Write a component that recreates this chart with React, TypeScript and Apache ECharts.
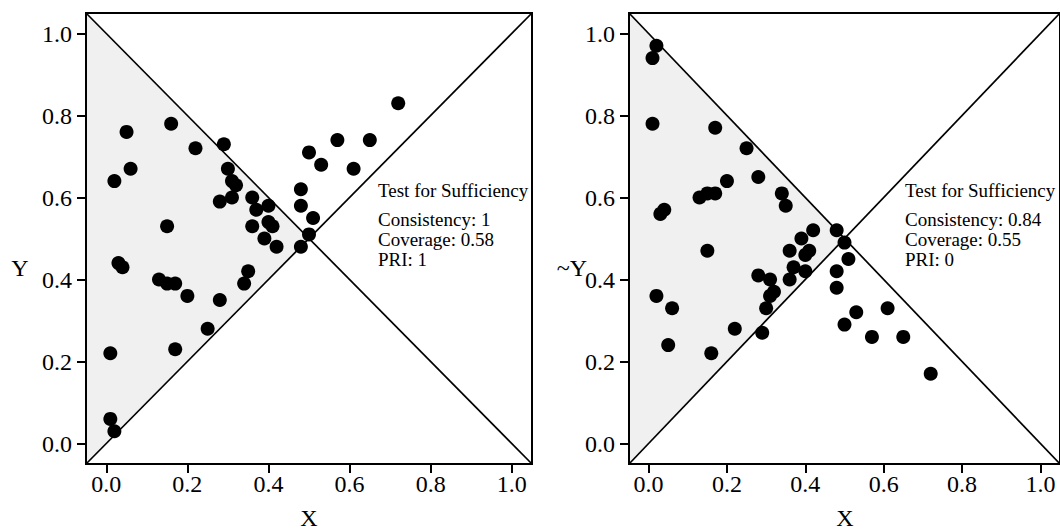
import React, { useEffect, useRef } from "react";
import * as echarts from "echarts";

// Membership scores of the condition X (shared by both panels)
const X_VALUES = [0.05, 0.16, 0.06, 0.02, 0.22, 0.29, 0.30, 0.31, 0.32, 0.28, 0.31, 0.36, 0.37, 0.40, 0.36, 0.40, 0.41, 0.39, 0.42, 0.48, 0.50, 0.48, 0.48, 0.51, 0.50, 0.53, 0.57, 0.15, 0.03, 0.04, 0.13, 0.15, 0.17, 0.20, 0.28, 0.35, 0.34, 0.25, 0.17, 0.01, 0.01, 0.02, 0.72, 0.65, 0.61];
// Outcome Y (left panel)
const Y_VALUES = [0.76, 0.78, 0.67, 0.64, 0.72, 0.73, 0.67, 0.64, 0.63, 0.59, 0.60, 0.60, 0.57, 0.58, 0.53, 0.54, 0.53, 0.50, 0.48, 0.48, 0.51, 0.62, 0.58, 0.55, 0.71, 0.68, 0.74, 0.53, 0.44, 0.43, 0.40, 0.39, 0.39, 0.36, 0.35, 0.42, 0.39, 0.28, 0.23, 0.22, 0.06, 0.03, 0.83, 0.74, 0.67];
// Negated outcome ~Y (right panel)
const NOT_Y_VALUES = [0.24, 0.22, 0.33, 0.36, 0.28, 0.27, 0.33, 0.36, 0.37, 0.41, 0.40, 0.40, 0.43, 0.42, 0.47, 0.46, 0.47, 0.50, 0.52, 0.52, 0.49, 0.38, 0.42, 0.45, 0.29, 0.32, 0.26, 0.47, 0.56, 0.57, 0.60, 0.61, 0.61, 0.64, 0.65, 0.58, 0.61, 0.72, 0.77, 0.78, 0.94, 0.97, 0.17, 0.26, 0.33];

const TICKS = [0, 0.2, 0.4, 0.6, 0.8, 1.0];
const TICK_LABELS = ["0.0", "0.2", "0.4", "0.6", "0.8", "1.0"];
const AXIS_MIN = -0.05;
const AXIS_MAX = 1.05;

const DIAG_UP = [[-0.05, -0.05], [1.05, 1.05]];
const DIAG_DOWN = [[-0.05, 1.05], [1.05, -0.05]];
const REGION = [[-0.05, -0.05], [-0.05, 1.05], [0.5, 0.5]];

const STAT_TITLE = "Test for Sufficiency";
const LEFT_STATS = ["Consistency: 1", "Coverage: 0.58", "PRI: 1"];
const RIGHT_STATS = ["Consistency: 0.84", "Coverage: 0.55", "PRI: 0"];
const Y_TITLES = ["Y", "~Y"];
const X_TITLE = "X";

const FONT = '"Liberation Serif", "Times New Roman", serif';

export default function App() {
  const ref = useRef<HTMLDivElement>(null);

  useEffect(() => {
    if (!ref.current) return;
    const chart = echarts.init(ref.current, undefined, { renderer: "svg" });

    const grids = [
      { left: 86, top: 13, width: 446, height: 451 },
      { left: 629, top: 13, width: 433, height: 451 },
    ];

    const fmt = (v: number) => {
      const i = TICKS.findIndex((t) => Math.abs(t - v) < 1e-6);
      return i >= 0 ? TICK_LABELS[i] : "";
    };

    const axisCommon = {
      type: "value",
      min: AXIS_MIN,
      max: AXIS_MAX,
      splitLine: { show: false },
      axisLine: { show: true, onZero: false, lineStyle: { color: "#000", width: 2 } },
      axisTick: { show: true, customValues: TICKS, length: 9, lineStyle: { color: "#000", width: 2 } },
      z: 10,
    };

    const xAxes = grids.map((_, i) => ({
      ...axisCommon,
      gridIndex: i,
      axisLabel: { customValues: TICKS, formatter: fmt, fontSize: 24, color: "#000", fontFamily: FONT, margin: 8 },
    }));
    const yAxes = grids.map((_, i) => ({
      ...axisCommon,
      gridIndex: i,
      axisLabel: { customValues: TICKS, formatter: fmt, fontSize: 24, color: "#000", fontFamily: FONT, margin: 14 },
    }));

    const outcomes = [Y_VALUES, NOT_Y_VALUES];
    const series: any[] = [];
    grids.forEach((_, i) => {
      series.push({
        type: "custom",
        xAxisIndex: i,
        yAxisIndex: i,
        silent: true,
        z: 1,
        data: [0],
        renderItem: (_p: any, api: any) => ({
          type: "polygon",
          shape: { points: REGION.map((p) => api.coord(p)) },
          style: { fill: "#f0f0f0", stroke: "none" },
        }),
      });
      [DIAG_UP, DIAG_DOWN].forEach((d) =>
        series.push({
          type: "line",
          xAxisIndex: i,
          yAxisIndex: i,
          data: d,
          showSymbol: false,
          silent: true,
          z: 2,
          lineStyle: { color: "#000", width: 1.7 },
        })
      );
      series.push({
        type: "scatter",
        xAxisIndex: i,
        yAxisIndex: i,
        z: 3,
        symbolSize: 14,
        itemStyle: { color: "#000", opacity: 1 },
        data: X_VALUES.map((x, k) => [x, outcomes[i][k]]),
      });
    });

    const statText = (x: number, lines: string[]) => [
      { type: "text", x, y: 190, style: { text: STAT_TITLE, font: `19px ${FONT}`, fill: "#000", textVerticalAlign: "middle" } },
      ...lines.map((t, k) => ({
        type: "text",
        x,
        y: 219 + k * 20,
        style: { text: t, font: `19px ${FONT}`, fill: "#000", textVerticalAlign: "middle" },
      })),
    ];

    const titleStyle = (text: string) => ({ text, font: `24px ${FONT}`, fill: "#000", textAlign: "center", textVerticalAlign: "middle" });

    chart.setOption({
      animation: false,
      backgroundColor: "#fff",
      grid: grids.map((g) => ({ ...g, show: true, borderColor: "#000", borderWidth: 2, backgroundColor: "transparent", z: 10 })),
      xAxis: xAxes,
      yAxis: yAxes,
      series,
      graphic: [
        ...statText(378, LEFT_STATS),
        ...statText(905, RIGHT_STATS),
        { type: "text", x: 20, y: 268, style: titleStyle(Y_TITLES[0]) },
        { type: "text", x: 572, y: 268, style: titleStyle(Y_TITLES[1]) },
        { type: "text", x: 309, y: 518, style: titleStyle(X_TITLE) },
        { type: "text", x: 845, y: 518, style: titleStyle(X_TITLE) },
      ],
    });

    return () => chart.dispose();
  }, []);

  return (
    <div
      ref={ref}
      style={{ position: "absolute", left: 0, top: 0, width: 1060, height: 530, background: "#fff" }}
    />
  );
}
